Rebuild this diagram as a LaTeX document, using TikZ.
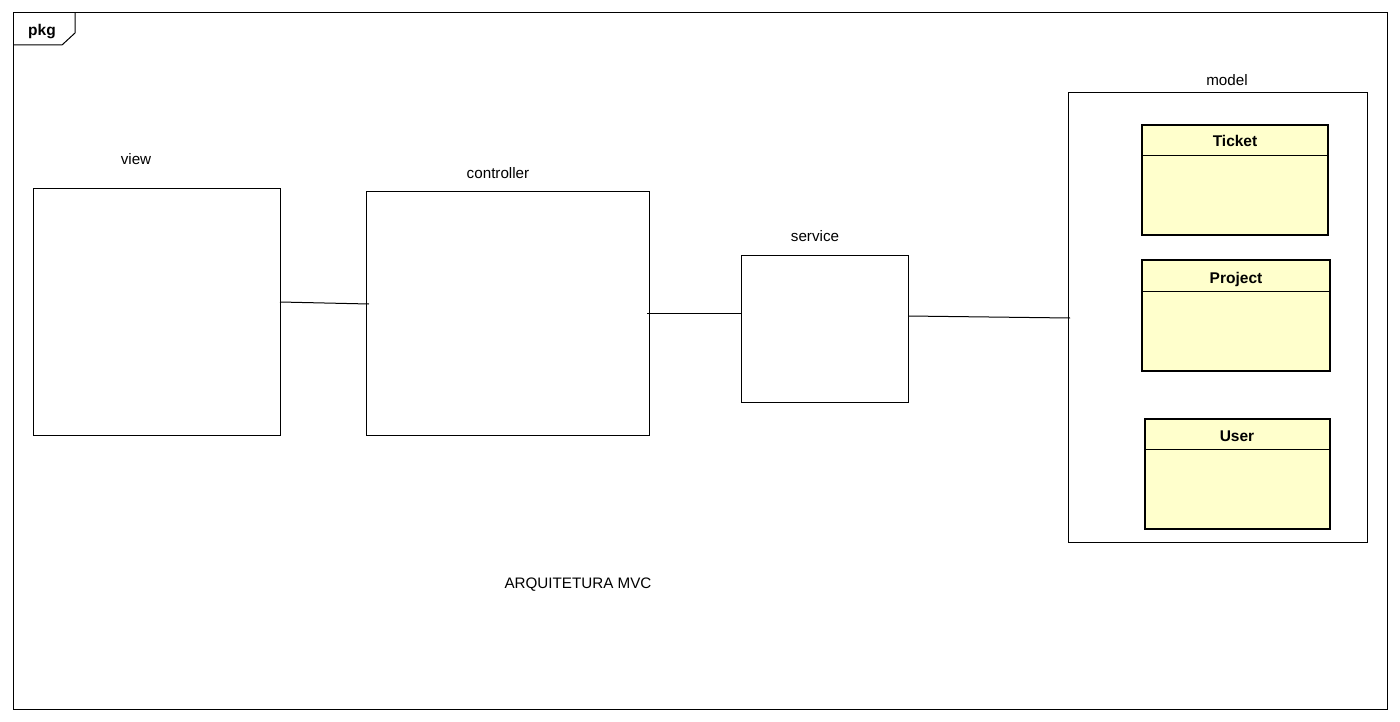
\documentclass[tikz,border=0pt]{standalone}
\usepackage{fontspec}
\setmainfont{Liberation Sans}
\begin{document}
\begin{tikzpicture}[x=1pt,y=-1pt,
  lbl/.style={font=\fontsize{15.2}{17}\selectfont, inner sep=0pt, anchor=base},
  blbl/.style={font=\fontsize{15.5}{17}\selectfont\bfseries, inner sep=0pt, anchor=base},
  pkgbox/.style={draw, line width=1pt, fill=white},
  classbox/.style={draw, line width=2.5pt, fill=classfill},
  link/.style={line width=1pt}]
\definecolor{classfill}{HTML}{FFFFCC}
\useasboundingbox (0,0) rectangle (1400,722);
\fill[white] (0,0) rectangle (1400,722);
% outer frame
\draw[line width=1pt] (13,13) rectangle (1387,709);
\draw[line width=1pt] (13,45) -- (62,45) -- (75,33) -- (75,13);
\node[blbl] (pkgt) at (42,36) {pkg};
% boxes
\draw[pkgbox] (33,189) rectangle (280,435);
\coordinate (viewA) at (280,302);
\node[lbl] (viewl) at (136,165) {view};
\draw[pkgbox] (366,192) rectangle (649,435);
\coordinate (ctrlA) at (369,304);
\coordinate (ctrlB) at (647,313);
\node[lbl] (ctrll) at (498,179) {controller};
\draw[pkgbox] (741,255) rectangle (908,402);
\coordinate (servA) at (741,313);
\coordinate (servB) at (908,316);
\node[lbl] (servl) at (815,241) {service};
\draw[pkgbox] (1068,93) rectangle (1367,542);
\coordinate (modA) at (1070,318);
\node[lbl] (modl) at (1227,86) {model};
% classes
\draw[classbox] (1142,125) rectangle (1328,235);
\draw[line width=0.8pt] (1143,155) -- (1327,155);
\node[blbl] (ticket) at (1235,147) {Ticket};
\draw[classbox] (1142,260) rectangle (1330,371);
\draw[line width=0.8pt] (1143,291) -- (1329,291);
\node[blbl] (project) at (1236,283) {Project};
\draw[classbox] (1145,419) rectangle (1330,529);
\draw[line width=0.8pt] (1146,449) -- (1329,449);
\node[blbl] (user) at (1237,441) {User};
% connectors
\draw[link] (viewA) -- (ctrlA);
\draw[link] (ctrlB) -- (servA);
\draw[link] (servB) -- (modA);
\node[lbl] (title) at (578,588) {ARQUITETURA MVC};
\end{tikzpicture}
\end{document}
